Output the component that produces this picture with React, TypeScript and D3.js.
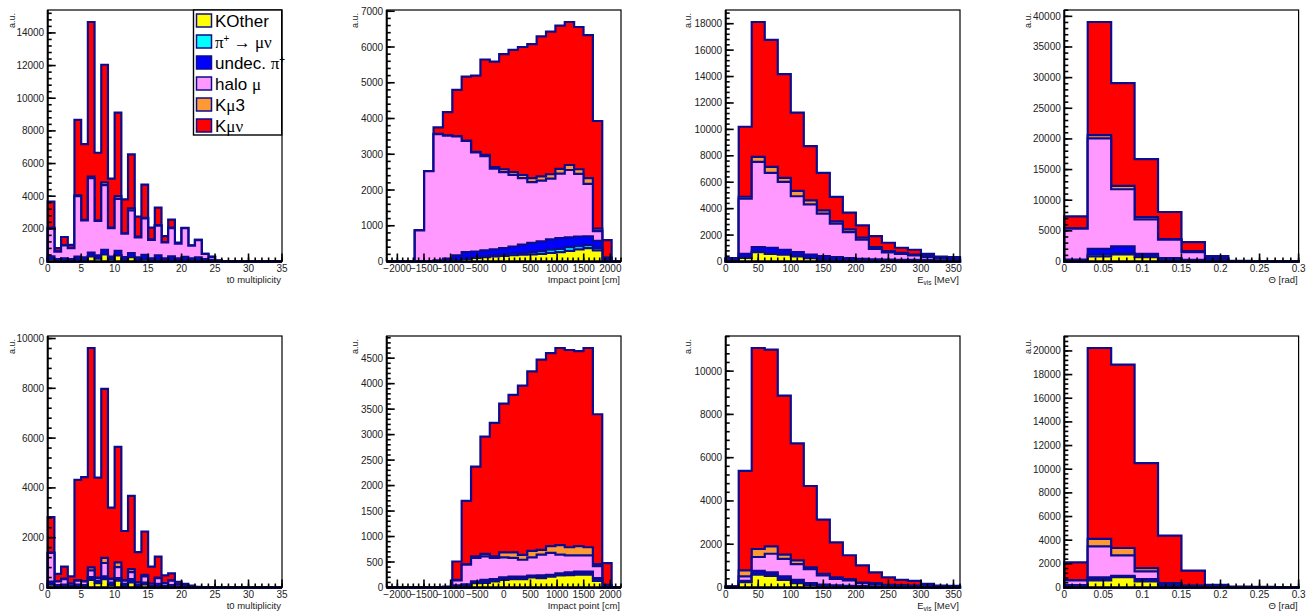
import React from 'react';
import * as d3 from 'd3';

// stack order, bottom to top
const SERIES = ['kother', 'pimunu', 'undecpi', 'halomu', 'kmu3', 'kmunu'];
const FILLS = ['#ffff00', '#00ffff', '#0000ff', '#ff99ff', '#ff9933', '#ff0000'];
const LINE = '#0c0c8e';

// ---- t0 multiplicity, top row (bins of 1, 0..35)
const t0TopKOther = [160, 60, 80, 60, 120, 100, 310, 170, 430, 150, 370, 110, 260, 100, 150, 70, 120, 60, 100, 60, 80, 50, 60, 30, 20, 10, 5, 0, 0, 0, 0, 0, 0, 0, 0];
const t0TopPiMuNu = [10, 0, 0, 0, 10, 10, 20, 10, 30, 10, 20, 10, 20, 10, 10, 10, 10, 10, 10, 10, 10, 10, 10, 0, 0, 0, 0, 0, 0, 0, 0, 0, 0, 0, 0];
const t0TopUndecPi = [140, 90, 120, 90, 170, 140, 220, 200, 260, 140, 260, 150, 240, 140, 250, 120, 240, 120, 200, 130, 200, 140, 180, 120, 80, 20, 10, 0, 0, 0, 0, 0, 0, 0, 0];
const t0TopHaloMu = [1740, 450, 780, 670, 3700, 2270, 4550, 2100, 3960, 1750, 3180, 1430, 2610, 1230, 2230, 1130, 1830, 980, 1740, 900, 1750, 770, 1060, 310, 180, 25, 5, 0, 0, 0, 0, 0, 0, 0, 0];
const t0TopKmu3 = [30, 20, 20, 10, 50, 30, 100, 40, 170, 30, 170, 30, 130, 40, 40, 20, 30, 20, 20, 20, 10, 5, 10, 5, 5, 0, 0, 0, 0, 0, 0, 0, 0, 0, 0];
const t0TopKmunu = [1590, 200, 500, 190, 4620, 4640, 9470, 4140, 7200, 3000, 5120, 2080, 3300, 1230, 2030, 730, 1070, 370, 500, 30, 10, 5, 10, 5, 5, 5, 0, 0, 0, 0, 0, 0, 0, 0, 0];

// ---- impact point, top row (25 bins, -2200..2200 cm)
const impTopKOther = [0, 0, 0, 0, 0, 0, 0, 30, 75, 100, 120, 140, 160, 175, 190, 200, 215, 240, 262, 300, 338, 375, 310, 30, 0];
const impTopPiMuNu = [0, 0, 0, 0, 0, 0, 0, 10, 20, 25, 30, 35, 40, 45, 50, 60, 75, 90, 88, 100, 92, 85, 70, 20, 0];
const impTopUndecPi = [0, 0, 0, 0, 0, 30, 80, 130, 165, 155, 160, 165, 175, 200, 230, 260, 273, 290, 307, 275, 270, 244, 200, 40, 0];
const impTopHaloMu = [0, 0, 0, 870, 2530, 3530, 3440, 3330, 3110, 2770, 2640, 2260, 2125, 2000, 1860, 1700, 1697, 1700, 1803, 1885, 1750, 1466, 270, 10, 0];
const impTopKmu3 = [0, 0, 0, 0, 0, 10, 10, 10, 10, 20, 30, 40, 80, 80, 90, 110, 120, 120, 130, 140, 130, 160, 70, 10, 0];
const impTopKmunu = [0, 0, 0, 0, 0, 180, 650, 1290, 1790, 2130, 2670, 2950, 3220, 3420, 3580, 3750, 3920, 3990, 4010, 4000, 3980, 4000, 3010, 490, 0];

// ---- E_vis, top row (bins of 20 MeV, 0..360)
const evisTopKOther = [20, 280, 710, 580, 510, 380, 250, 150, 80, 60, 40, 30, 20, 15, 10, 10, 5, 5];
const evisTopPiMuNu = [10, 40, 60, 60, 50, 40, 30, 30, 25, 20, 15, 10, 10, 10, 5, 5, 5, 5];
const evisTopUndecPi = [150, 260, 320, 400, 330, 290, 250, 220, 225, 170, 145, 130, 120, 105, 105, 85, 80, 70];
const evisTopHaloMu = [30, 4170, 6450, 5670, 5140, 4230, 3800, 3220, 2530, 1980, 1450, 790, 530, 450, 340, 230, 140, 100];
const evisTopKmu3 = [10, 150, 380, 450, 300, 400, 300, 250, 180, 200, 150, 130, 100, 80, 70, 70, 50, 50];
const evisTopKmunu = [30, 5300, 10210, 9620, 7850, 5930, 4100, 2840, 1850, 1270, 930, 830, 640, 380, 360, 180, 100, 100];

// ---- Theta, top row (bins of 0.03 rad, 0..0.3)
const thTopKOther = [100, 820, 1150, 710, 270, 100, 50, 10, 5, 0];
const thTopPiMuNu = [50, 330, 210, 110, 50, 50, 30, 10, 5, 5];
const thTopUndecPi = [180, 920, 1100, 440, 230, 120, 80, 30, 20, 5];
const thTopHaloMu = [5020, 18020, 9330, 5620, 3000, 1260, 280, 20, 10, 5];
const thTopKmu3 = [50, 540, 550, 380, 110, 160, 110, 10, 10, 5];
const thTopKmunu = [1970, 18450, 16750, 9440, 4420, 1480, 320, 20, 10, 10];

// ---- t0 multiplicity, bottom row
const t0BotKOther = [110, 40, 50, 30, 50, 40, 310, 175, 340, 100, 280, 80, 200, 50, 120, 30, 60, 20, 30, 10, 10, 5, 0, 0, 0, 0, 0, 0, 0, 0, 0, 0, 0, 0, 0];
const t0BotPiMuNu = [20, 10, 10, 5, 10, 10, 20, 15, 25, 15, 20, 10, 20, 10, 10, 5, 10, 5, 5, 5, 5, 0, 0, 0, 0, 0, 0, 0, 0, 0, 0, 0, 0, 0, 0];
const t0BotUndecPi = [110, 50, 60, 45, 60, 50, 90, 80, 80, 85, 80, 60, 120, 60, 70, 45, 80, 45, 65, 35, 25, 15, 10, 0, 0, 0, 0, 0, 0, 0, 0, 0, 0, 0, 0];
const t0BotHaloMu = [1150, 140, 220, 70, 160, 140, 270, 110, 540, 140, 440, 130, 280, 80, 245, 70, 230, 105, 180, 70, 50, 25, 5, 5, 0, 0, 0, 0, 0, 0, 0, 0, 0, 0, 0];
const t0BotKmu3 = [10, 10, 20, 10, 20, 20, 120, 20, 205, 20, 190, 20, 120, 10, 65, 10, 20, 5, 10, 10, 10, 5, 5, 0, 0, 0, 0, 0, 0, 0, 0, 0, 0, 0, 0];
const t0BotKmunu = [1430, 300, 480, 290, 4020, 4170, 8810, 4010, 6790, 2850, 4640, 1970, 2940, 1210, 1740, 680, 840, 310, 280, 100, 50, 30, 10, 5, 0, 0, 0, 0, 0, 0, 0, 0, 0, 0, 0];

// ---- impact point, bottom row
const impBotKOther = [0, 0, 0, 0, 0, 0, 0, 10, 20, 85, 90, 120, 150, 165, 165, 200, 185, 215, 235, 240, 250, 250, 130, 10, 0];
const impBotPiMuNu = [0, 0, 0, 0, 0, 0, 0, 10, 10, 15, 20, 20, 20, 20, 20, 20, 20, 15, 15, 20, 20, 20, 20, 10, 0];
const impBotUndecPi = [0, 0, 0, 0, 0, 0, 5, 20, 30, 20, 40, 25, 30, 30, 30, 15, 35, 20, 30, 35, 40, 40, 35, 10, 0];
const impBotHaloMu = [0, 0, 0, 0, 0, 0, 5, 100, 390, 460, 460, 415, 390, 365, 330, 355, 405, 430, 365, 335, 320, 320, 235, 10, 0];
const impBotKmu3 = [0, 0, 0, 0, 0, 0, 0, 10, 10, 30, 50, 30, 100, 110, 95, 130, 95, 130, 185, 160, 180, 160, 40, 10, 0];
const impBotKmunu = [0, 0, 0, 0, 0, 0, 10, 360, 1240, 1760, 2300, 2620, 2920, 3090, 3320, 3520, 3730, 3790, 3870, 3870, 3830, 3910, 2940, 430, 0];

// ---- E_vis, bottom row
const evisBotKOther = [10, 250, 590, 540, 355, 200, 120, 60, 40, 30, 20, 10, 5, 5, 5, 0, 0, 0];
const evisBotPiMuNu = [5, 20, 40, 40, 30, 30, 20, 20, 15, 10, 10, 10, 5, 5, 5, 5, 5, 5];
const evisBotUndecPi = [20, 40, 145, 120, 125, 125, 60, 50, 45, 40, 30, 30, 30, 25, 20, 15, 10, 5];
const evisBotHaloMu = [5, 200, 635, 860, 810, 725, 650, 430, 300, 245, 140, 105, 70, 60, 50, 40, 30, 25];
const evisBotKmu3 = [5, 280, 370, 340, 200, 170, 80, 75, 65, 65, 30, 45, 15, 15, 10, 10, 5, 5];
const evisBotKmunu = [5, 4600, 9290, 9090, 7350, 5410, 3760, 2505, 1625, 1100, 790, 500, 340, 245, 220, 100, 40, 35];

// ---- Theta, bottom row
const thBotKOther = [100, 600, 880, 510, 100, 40, 10, 5, 0, 0];
const thBotPiMuNu = [30, 100, 40, 50, 50, 20, 10, 5, 5, 0];
const thBotUndecPi = [70, 150, 70, 150, 80, 40, 30, 10, 10, 5];
const thBotHaloMu = [400, 2630, 1730, 650, 100, 40, 20, 15, 10, 0];
const thBotKmu3 = [20, 630, 620, 280, 40, 20, 10, 5, 5, 0];
const thBotKmunu = [1500, 16140, 15500, 8870, 4020, 1260, 145, 45, 25, 5];

type Title = 't0' | 'impact' | 'evis' | 'theta';
type PanelDef = {
  row: number;
  col: number;
  xDomain: [number, number];
  nBins: number;
  xMajor: number;
  yMajor: number;
  title: Title;
  layers: number[][];
};

const PANELS: PanelDef[] = [
  { row: 0, col: 0, xDomain: [0, 35], nBins: 35, xMajor: 5, yMajor: 2000, title: 't0',
    layers: [t0TopKOther, t0TopPiMuNu, t0TopUndecPi, t0TopHaloMu, t0TopKmu3, t0TopKmunu] },
  { row: 0, col: 1, xDomain: [-2200, 2200], nBins: 25, xMajor: 500, yMajor: 1000, title: 'impact',
    layers: [impTopKOther, impTopPiMuNu, impTopUndecPi, impTopHaloMu, impTopKmu3, impTopKmunu] },
  { row: 0, col: 2, xDomain: [0, 360], nBins: 18, xMajor: 50, yMajor: 2000, title: 'evis',
    layers: [evisTopKOther, evisTopPiMuNu, evisTopUndecPi, evisTopHaloMu, evisTopKmu3, evisTopKmunu] },
  { row: 0, col: 3, xDomain: [0, 0.3], nBins: 10, xMajor: 0.05, yMajor: 5000, title: 'theta',
    layers: [thTopKOther, thTopPiMuNu, thTopUndecPi, thTopHaloMu, thTopKmu3, thTopKmunu] },
  { row: 1, col: 0, xDomain: [0, 35], nBins: 35, xMajor: 5, yMajor: 2000, title: 't0',
    layers: [t0BotKOther, t0BotPiMuNu, t0BotUndecPi, t0BotHaloMu, t0BotKmu3, t0BotKmunu] },
  { row: 1, col: 1, xDomain: [-2200, 2200], nBins: 25, xMajor: 500, yMajor: 500, title: 'impact',
    layers: [impBotKOther, impBotPiMuNu, impBotUndecPi, impBotHaloMu, impBotKmu3, impBotKmunu] },
  { row: 1, col: 2, xDomain: [0, 360], nBins: 18, xMajor: 50, yMajor: 2000, title: 'evis',
    layers: [evisBotKOther, evisBotPiMuNu, evisBotUndecPi, evisBotHaloMu, evisBotKmu3, evisBotKmunu] },
  { row: 1, col: 3, xDomain: [0, 0.3], nBins: 10, xMajor: 0.05, yMajor: 2000, title: 'theta',
    layers: [thBotKOther, thBotPiMuNu, thBotUndecPi, thBotHaloMu, thBotKmu3, thBotKmunu] },
];

const FRAME_W = 234.3;
const FRAME_H = 251.5;
const COL_LEFT = [47.7, 386.7, 725.7, 1064.3];
const ROW_TOP = [10, 336];
const AU_OFFSET = [33, 29, 35, 33];

const SANS = '"Liberation Sans", Arial, Helvetica, sans-serif';
const SERIF = '"Liberation Serif", "Times New Roman", serif';

function fmt(v: number) {
  const r = Math.round(v * 1e6) / 1e6;
  return r < 0 ? '\u2212' + String(-r) : String(r);
}

function ticksBetween(d0: number, d1: number, step: number) {
  const out: number[] = [];
  const k0 = Math.ceil(d0 / step - 1e-6);
  const k1 = Math.floor(d1 / step + 1e-6);
  for (let k = k0; k <= k1; k++) out.push(Math.round(k * step * 1e6) / 1e6);
  return out;
}

const XTitle = ({ t, x, y }: { t: Title; x: number; y: number }) => {
  const common = { x, y, textAnchor: 'end' as const, fontSize: 9.5, fill: '#222', fontFamily: SANS };
  if (t === 't0') return <text {...common}>t0 multiplicity</text>;
  if (t === 'impact') return <text {...common}>Impact point [cm]</text>;
  if (t === 'evis')
    return (
      <text {...common}>
        E<tspan fontSize={6.5} dy={2.5}>vis</tspan>
        <tspan dy={-2.5}> [MeV]</tspan>
      </text>
    );
  return <text {...common}>Θ [rad]</text>;
};

const Legend = () => {
  const left = 193.5;
  const top = 10;
  const rows = [
    <>KOther</>,
    <>
      <tspan fontFamily={SERIF}>π</tspan>
      <tspan fontSize={10} dy={-6}>+</tspan>
      <tspan dy={6} fontFamily={SERIF}> → μν</tspan>
    </>,
    <>
      undec. <tspan fontFamily={SERIF}>π</tspan>
      <tspan fontSize={10} dy={-6}>+</tspan>
    </>,
    <>
      halo <tspan fontFamily={SERIF}>μ</tspan>
    </>,
    <>
      K<tspan fontFamily={SERIF}>μ</tspan>3
    </>,
    <>
      K<tspan fontFamily={SERIF}>μν</tspan>
    </>,
  ];
  return (
    <g>
      <rect x={left} y={top} width={281.7 - left} height={125} fill="#fff" stroke="#000" strokeWidth={1.4} />
      {rows.map((content, i) => {
        const cy = top + 10.5 + i * 21;
        return (
          <g key={i}>
            <rect x={left + 3} y={cy - 6.5} width={15} height={13} fill={FILLS[i]} stroke={LINE} strokeWidth={1.5} />
            <text x={left + 21.5} y={cy + 6} fontSize={17} fontFamily={SANS} fill="#000">
              {content}
            </text>
          </g>
        );
      })}
    </g>
  );
};

const Panel = ({ p }: { p: PanelDef }) => {
  const left = COL_LEFT[p.col];
  const top = ROW_TOP[p.row];
  const right = left + FRAME_W;
  const bottom = top + FRAME_H;
  const [d0, d1] = p.xDomain;
  const edges = d3.range(p.nBins + 1).map((i) => d0 + (i * (d1 - d0)) / p.nBins);

  const table = d3.range(p.nBins).map((i) => {
    const r: Record<string, number> = {};
    SERIES.forEach((k, j) => (r[k] = p.layers[j][i]));
    return r;
  });
  const stacked = d3.stack<Record<string, number>>().keys(SERIES)(table);
  const ymax = (d3.max(stacked[stacked.length - 1], (d) => d[1]) as number) * 1.05;

  const x = d3.scaleLinear().domain(p.xDomain).range([left, right]);
  const y = d3.scaleLinear().domain([0, ymax]).range([bottom, top]);
  const area = d3
    .area<[number, number]>()
    .x((d) => x(d[0]))
    .y0(y(0))
    .y1((d) => y(d[1]))
    .curve(d3.curveStepAfter);

  const paths = stacked.map((s) => {
    const pts: [number, number][] = s.map((d, i) => [edges[i], d[1]]);
    pts.push([edges[p.nBins], s[p.nBins - 1][1]]);
    return area(pts) as string;
  });

  const yMaj = ticksBetween(0, ymax, p.yMajor);
  const yMin = ticksBetween(0, ymax, p.yMajor / 5);
  const xMaj = ticksBetween(d0, d1, p.xMajor);
  const xMin = ticksBetween(d0, d1, p.xMajor / 5);

  return (
    <g>
      {paths
        .map((d, j) => (
          <path key={j} d={d} fill={FILLS[j]} stroke={LINE} strokeWidth={2.2} strokeLinejoin="miter" />
        ))
        .reverse()}
      <rect x={left} y={top} width={FRAME_W} height={FRAME_H} fill="none" stroke="#000" strokeWidth={1.2} />
      <line x1={left} x2={left} y1={top} y2={bottom} stroke="#000" strokeWidth={2} />
      <line x1={left} x2={right} y1={bottom} y2={bottom} stroke="#000" strokeWidth={2} />
      {yMin.map((v) => (
        <line key={'ym' + v} x1={left} x2={left + 4} y1={y(v)} y2={y(v)} stroke="#000" strokeWidth={1.6} />
      ))}
      {yMaj.map((v) => (
        <g key={'yM' + v}>
          <line x1={left} x2={left + 8} y1={y(v)} y2={y(v)} stroke="#000" strokeWidth={1.6} />
          <text x={left - 3.5} y={y(v)} dy="0.35em" textAnchor="end" fontSize={10} fontFamily={SANS} fill="#222">
            {fmt(v)}
          </text>
        </g>
      ))}
      {xMin.map((v) => (
        <line key={'xm' + v} x1={x(v)} x2={x(v)} y1={bottom} y2={bottom - 4} stroke="#000" strokeWidth={1.6} />
      ))}
      {xMaj.map((v) => (
        <g key={'xM' + v}>
          <line x1={x(v)} x2={x(v)} y1={bottom} y2={bottom - 8} stroke="#000" strokeWidth={1.6} />
          <text x={x(v)} y={bottom + 10.5} textAnchor="middle" fontSize={10} fontFamily={SANS} fill="#222">
            {fmt(v)}
          </text>
        </g>
      ))}
      <XTitle t={p.title} x={right - 1} y={bottom + 21} />
      <text
        transform={`translate(${left - AU_OFFSET[p.col]},${top + 3}) rotate(-90)`}
        textAnchor="end"
        fontSize={9}
        fontFamily={SANS}
        fill="#222"
      >
        a.u.
      </text>
      {p.row === 0 && p.col === 0 && <Legend />}
    </g>
  );
};

export default function App() {
  return (
    <svg
      width={1311}
      height={616}
      viewBox="0 0 1311 616"
      style={{ position: 'absolute', left: 0, top: 0, background: '#fff' }}
    >
      <rect x={0} y={0} width={1311} height={616} fill="#fff" />
      {PANELS.map((p, i) => (
        <Panel key={i} p={p} />
      ))}
    </svg>
  );
}
